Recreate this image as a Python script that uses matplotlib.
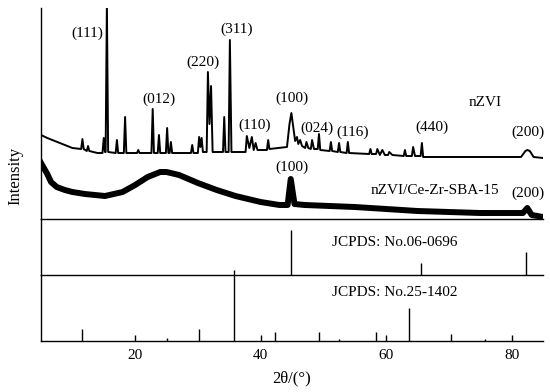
import matplotlib
matplotlib.use("Agg")
import matplotlib.pyplot as plt

plt.rcParams['font.family'] = ['Liberation Serif', 'DejaVu Serif']

# nZVI trace (2theta, intensity)
nzvi_x = [5, 6, 8, 10, 11.4, 11.6, 11.8, 12.3, 12.5, 12.7, 14, 14.8, 15.0, 15.2, 15.3, 15.5, 15.7,
          16.9, 17.1, 17.3, 18.2, 18.4, 18.6, 20.3, 20.5, 20.7, 22.6, 22.8, 23.0, 23.6, 23.8, 24.0,
          24.9, 25.1, 25.3, 25.5, 25.7, 25.9, 28.9, 29.1, 29.3, 30.0, 30.2, 30.4, 30.6, 30.8, 31.4,
          31.6, 31.85, 32.1, 32.35, 34.0, 34.2, 34.4, 34.9, 35.1, 35.35, 37.6, 37.8, 38.2, 38.6,
          38.9, 39.2, 39.5, 41.0, 41.2, 41.4, 44.2, 44.6, 44.9, 45.2, 45.5, 45.8, 46.0, 46.3, 46.6,
          47.1, 47.3, 47.6, 48.0, 48.2, 48.5, 49.1, 49.3, 49.5, 51.0, 51.2, 51.4, 52.3, 52.5, 52.7,
          53.7, 53.9, 54.1, 57.3, 57.5, 57.7, 58.4, 58.6, 59.0, 59.4, 59.8, 60.3, 60.5, 61, 62.8,
          63.0, 63.2, 64.1, 64.3, 64.6, 65.5, 65.7, 65.9, 70, 75, 81.5, 82.2, 82.5, 82.9, 83.5, 85]
nzvi_y = [84, 81, 76, 71, 70, 80, 70, 68, 73, 68, 66, 66, 81, 67, 67, 215, 67,
          66, 79, 66, 66, 102, 66, 66, 69, 66, 66, 110, 66, 66, 84, 66,
          66, 91, 66, 66, 77, 66, 66, 74, 66, 66, 82, 72, 81, 67, 67,
          147, 95, 133, 67, 67, 102, 67, 67, 179, 67, 67, 83, 71, 82,
          69, 76, 69, 69, 79, 70, 72, 95, 106, 92, 78, 82, 75, 79, 73,
          71, 77, 71, 70, 79, 70, 70, 85, 69, 68, 77, 68, 67, 76, 67,
          66, 77, 66, 65, 70, 65, 65, 70, 64, 69, 64, 64, 67, 64, 63,
          69, 63, 63, 72, 63, 63, 76, 62, 62, 62, 62, 68, 69, 68, 62, 61]

# nZVI/Ce-Zr-SBA-15 trace
comp_x = [5, 6, 6.6, 7.5, 8.8, 10, 12, 15.2, 18, 20, 22, 24, 25, 27, 30, 33, 36, 40, 43, 44.3, 44.8,
          45.4, 47, 55, 65, 75, 80, 81.8, 82.5, 83.2, 85]
comp_y = [56, 45, 37, 32, 29, 27, 25, 23, 27, 34, 42, 47, 47, 44, 36, 29, 23, 17, 14, 14, 40,
          15, 14, 12, 8, 6, 6, 6, 11, 4, 2]

# reference patterns
ref1_pos = [44.8, 65.6, 82.3]
ref1_h = [45, 12, 23]
ref2_pos = [11.6, 25.1, 30.2, 35.8, 42.3, 49.3, 52.5, 58.4, 63.7, 70.4, 75.8]
ref2_h = [12, 3, 12, 71, 9, 9, 2, 9, 33, 7, 2]

xticks = [20, 40, 60, 80]

fig = plt.figure(figsize=(5.5, 3.92), dpi=100)
L, W = 41 / 550, 502 / 550
H = 392
ax_top = fig.add_axes([L, (H - 219) / H, W, 211 / H])
ax_mid = fig.add_axes([L, (H - 275) / H, W, 56 / H])
ax_bot = fig.add_axes([L, (H - 341) / H, W, 66 / H])

for ax in (ax_top, ax_mid, ax_bot):
    ax.set_xlim(5, 85)
    for s in ('top', 'right'):
        ax.spines[s].set_visible(False)
    ax.spines['left'].set_linewidth(1.0)
    ax.spines['bottom'].set_linewidth(1.0)
    ax.set_yticks([])
    ax.patch.set_alpha(0)

ax_top.set_ylim(0, 211)
ax_mid.set_ylim(0, 56)
ax_bot.set_ylim(0, 66)

ax_top.plot(nzvi_x, nzvi_y, color='black', lw=1.4)
ax_top.plot(comp_x, comp_y, color='black', lw=4.3)

ax_mid.vlines(ref1_pos, 0, ref1_h, color='black', lw=1.0)
ax_bot.vlines(ref2_pos, 0, ref2_h, color='black', lw=1.0, clip_on=False)

for ax in (ax_top, ax_mid):
    ax.set_xticks([])
ax_bot.set_xticks(xticks)
ax_bot.tick_params(axis='x', direction='in', length=4.3, width=1.0, labelsize=11, pad=6)
ax_bot.set_xlabel('2θ/(°)', fontsize=12, labelpad=6)

fs = 11
labels = [('(111)', 12.35, 186), ('(012)', 23.8, 120), ('(220)', 30.8, 157), ('(311)', 36.2, 190),
          ('(110)', 39.0, 94), ('(100)', 45.0, 121), ('(024)', 49.0, 91), ('(116)', 54.6, 87),
          ('(440)', 67.3, 92), ('(200)', 82.6, 87), ('nZVI', 75.8, 116),
          ('(100)', 45.0, 52), ('nZVI/Ce-Zr-SBA-15', 67.8, 28), ('(200)', 82.6, 26)]
for t, x, y in labels:
    ax_top.text(x, y, t, ha='center', va='center', fontsize=fs)

ax_mid.text(61.4, 33, 'JCPDS: No.06-0696', ha='center', va='center', fontsize=fs)
ax_bot.text(61.4, 49, 'JCPDS: No.25-1402', ha='center', va='center', fontsize=fs)

fig.text(15 / 550, 1 - 176 / 392, 'Intensity', rotation=90, ha='center', va='center', fontsize=12)

fig.savefig('out.png', dpi=100)
